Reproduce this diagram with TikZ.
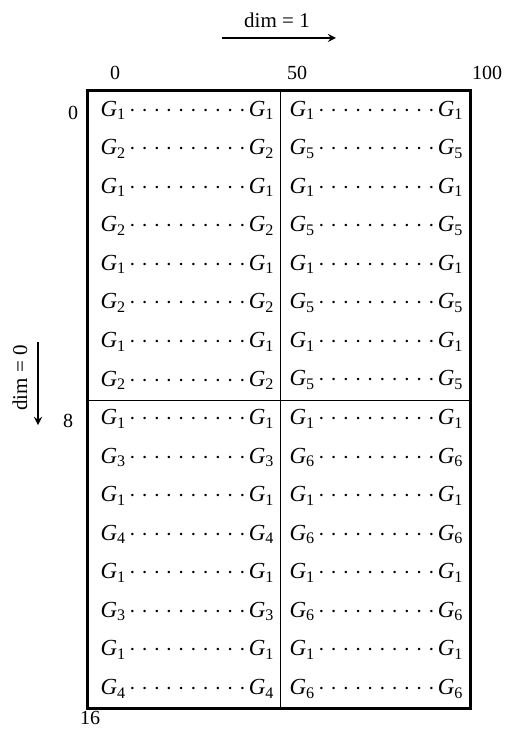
\documentclass[tikz,border=0pt]{standalone}
\usepackage{amsmath}
\usepackage{fontspec}
\setmainfont{Liberation Serif}
\usetikzlibrary{arrows}
\newcommand{\gname}[1]{$\textit{G}_{\text{#1}}$}
\newcommand{\gdots}[1]{\makebox[87pt]{\gname{#1}\xleaders\hbox to 6pt{\hss$\cdot$\hss}\hfill\gname{#1}}}

\begin{document}
\begin{tikzpicture}[x=0.5pt,y=-0.5pt]
	\useasboundingbox (0,0) rectangle (512,731);
	\tikzset{cell/.style={inner sep=0pt,font=\fontsize{11.5}{13}\selectfont}, dimarrow/.style={thick,-stealth}}
	\foreach \i/\a/\b in {1/1/1,2/2/5,3/1/1,4/2/5,5/1/1,6/2/5,7/1/1,8/2/5,9/1/1,10/3/6,11/1/1,12/4/6,13/1/1,14/3/6,15/1/1,16/4/6}{
		\node[cell] (l\i) at (187.5,{91+(\i-0.5)*38.56}) {\gdots{\a}};
		\node[cell] (r\i) at (376.5,{91+(\i-0.5)*38.56}) {\gdots{\b}};}
	\draw[line width=1.5pt] (87,91) rectangle (470,708);
	\draw (280,91) -- (280,708);
	\draw (87,400) -- (470,400);
	% axis labels
	\node (x0) at (115,73) {0};
	\node (x50) at (297,73) {50};
	\node (x100) at (487,73) {100};
	\node (y0) at (73,113) {0};
	\node (y8) at (68,421) {8};
	\node (y16) at (90,718) {16};
	% directions
	\node[font=\fontsize{10.5}{12}\selectfont] (dimone) at (277,20) {dim = 1};
	\coordinate (dimoneA) at (222,38);
	\coordinate (dimoneB) at (336,38);
	\draw[dimarrow] (dimoneA) -- (dimoneB);
	\node[rotate=90,font=\fontsize{10.5}{12}\selectfont] (dimzero) at (20,378) {dim = 0};
	\coordinate (dimzeroA) at (38,342);
	\coordinate (dimzeroB) at (38,425);
	\draw[dimarrow] (dimzeroA) -- (dimzeroB);
\end{tikzpicture}
\end{document}
